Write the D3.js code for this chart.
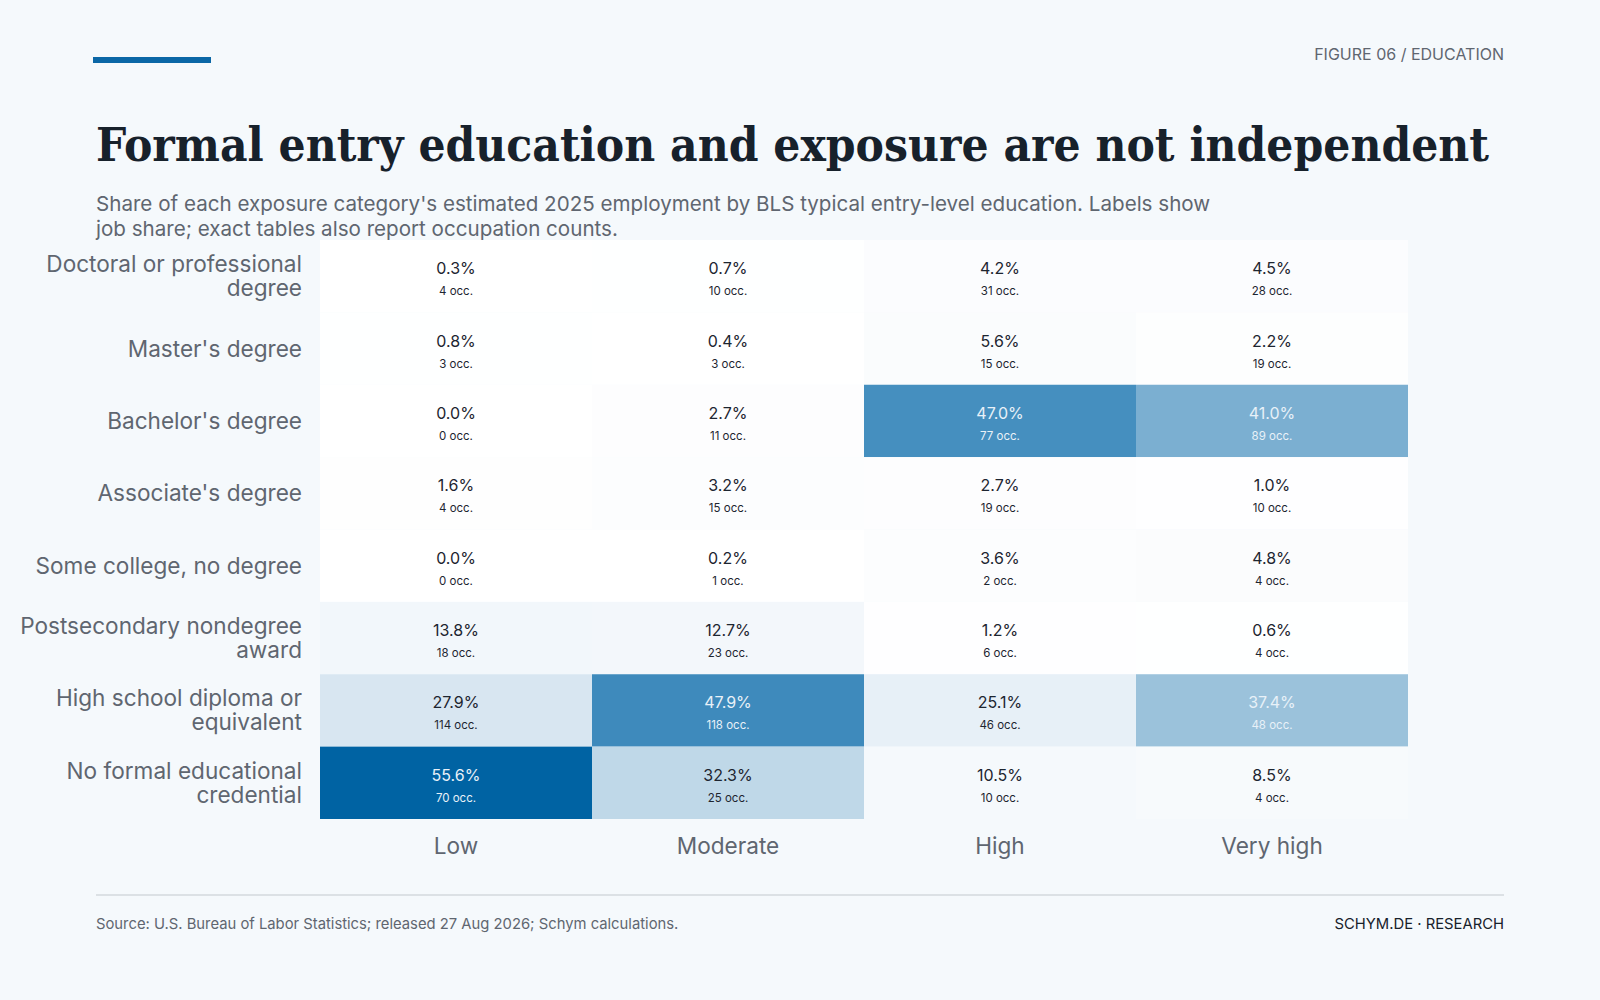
<!DOCTYPE html>
<html lang="en">
<head>
<meta charset="UTF-8">
<title>Education vs exposure</title>
<script src="https://d3js.org/d3.v7.min.js"></script>
<style>
  body { margin: 0; background: #f5f9fc; font-family: Inter, sans-serif; }
  svg { display: block; }
</style>
</head>
<body>
<div id="container"></div>
<script>
// data
const rows = ["Doctoral or professional degree", "Master's degree", "Bachelor's degree", "Associate's degree",
  "Some college, no degree", "Postsecondary nondegree award", "High school diploma or equivalent",
  "No formal educational credential"];
const rowLines = [["Doctoral or professional", "degree"], ["Master's degree"], ["Bachelor's degree"], ["Associate's degree"],
  ["Some college, no degree"], ["Postsecondary nondegree", "award"], ["High school diploma or", "equivalent"],
  ["No formal educational", "credential"]];
const cols = ["Low", "Moderate", "High", "Very high"];
const shares = [
  [0.3, 0.7, 4.2, 4.5],
  [0.8, 0.4, 5.6, 2.2],
  [0.0, 2.7, 47.0, 41.0],
  [1.6, 3.2, 2.7, 1.0],
  [0.0, 0.2, 3.6, 4.8],
  [13.8, 12.7, 1.2, 0.6],
  [27.9, 47.9, 25.1, 37.4],
  [55.6, 32.3, 10.5, 8.5]
];
const counts = [
  [4, 10, 31, 28],
  [3, 3, 15, 19],
  [0, 11, 77, 89],
  [4, 15, 19, 10],
  [0, 1, 2, 4],
  [18, 23, 6, 4],
  [114, 118, 46, 48],
  [70, 25, 10, 4]
];

const W = 1600, H = 1000;
const svg = d3.select('#container').append('svg').attr('width', W).attr('height', H);
svg.append('rect').attr('width', W).attr('height', H).attr('fill', '#f5f9fc');

// header
svg.append('rect').attr('x', 93).attr('y', 57).attr('width', 118).attr('height', 6).attr('fill', '#0b67a6');
svg.append('text').attr('x', 1504).attr('y', 60).attr('text-anchor', 'end')
  .attr('font-size', 16).attr('fill', '#5f6670').text('FIGURE 06 / EDUCATION');
svg.append('text').attr('x', 96).attr('y', 161)
  .attr('font-family', '"DejaVu Serif", serif').attr('font-weight', 'bold').attr('font-size', 46)
  .attr('textLength', 1393).attr('lengthAdjust', 'spacingAndGlyphs')
  .attr('fill', '#17212b').text('Formal entry education and exposure are not independent');
const sub = ["Share of each exposure category's estimated 2025 employment by BLS typical entry-level education. Labels show",
  "job share; exact tables also report occupation counts."];
sub.forEach((s, i) => svg.append('text').attr('x', 96).attr('y', 211 + i * 25)
  .attr('font-size', 20.6).attr('fill', '#5f6670').text(s));

// grid
const x = d3.scaleBand().domain(cols).range([320, 1408]);
const y = d3.scaleBand().domain(rows).range([240, 819]);
const color = d3.scaleLinear().domain([0, 25, 35, 47, 55.6])
  .range(['#ffffff', '#e8f0f7', '#b0cfe2', '#458fbf', '#0063a3']);

const cells = [];
rows.forEach((r, i) => cols.forEach((c, j) => cells.push({ r, c, v: shares[i][j], n: counts[i][j] })));

const g = svg.append('g');
g.selectAll('rect.cell').data(cells).enter().append('rect')
  .attr('x', d => x(d.c)).attr('y', d => y(d.r))
  .attr('width', x.bandwidth()).attr('height', y.bandwidth())
  .attr('fill', d => color(d.v));
g.selectAll('text.val').data(cells).enter().append('text')
  .attr('x', d => x(d.c) + x.bandwidth() / 2).attr('y', d => y(d.r) + y.bandwidth() / 2 - 2)
  .attr('text-anchor', 'middle').attr('font-size', 16)
  .attr('fill', d => d.v > 35 ? '#e8f1f8' : '#1d2530')
  .text(d => d.v.toFixed(1) + '%');
g.selectAll('text.cnt').data(cells).enter().append('text')
  .attr('x', d => x(d.c) + x.bandwidth() / 2).attr('y', d => y(d.r) + y.bandwidth() / 2 + 19)
  .attr('text-anchor', 'middle').attr('font-size', 11.5)
  .attr('fill', d => d.v > 35 ? '#e8f1f8' : '#1d2530')
  .text(d => d.n + ' occ.');

// row labels
rows.forEach((r, i) => {
  const lines = rowLines[i];
  const cy = y(r) + y.bandwidth() / 2;
  lines.forEach((l, k) => svg.append('text').attr('x', 302)
    .attr('y', cy + 8 + (k - (lines.length - 1) / 2) * 24)
    .attr('text-anchor', 'end').attr('font-size', 22.6).attr('fill', '#5f6670').text(l));
});

// column labels
svg.selectAll('text.col').data(cols).enter().append('text')
  .attr('x', d => x(d) + x.bandwidth() / 2).attr('y', 854)
  .attr('text-anchor', 'middle').attr('font-size', 22.6).attr('fill', '#5f6670').text(d => d);

// footer
svg.append('line').attr('x1', 96).attr('x2', 1504).attr('y1', 895).attr('y2', 895)
  .attr('stroke', '#d3d8de').attr('stroke-width', 1.5);
svg.append('text').attr('x', 96).attr('y', 929).attr('font-size', 14.8).attr('fill', '#5f6670')
  .text('Source: U.S. Bureau of Labor Statistics; released 27 Aug 2026; Schym calculations.');
svg.append('text').attr('x', 1504).attr('y', 929).attr('text-anchor', 'end').attr('font-size', 14.8)
  .attr('fill', '#17212b').text('SCHYM.DE · RESEARCH');
</script>
</body>
</html>
